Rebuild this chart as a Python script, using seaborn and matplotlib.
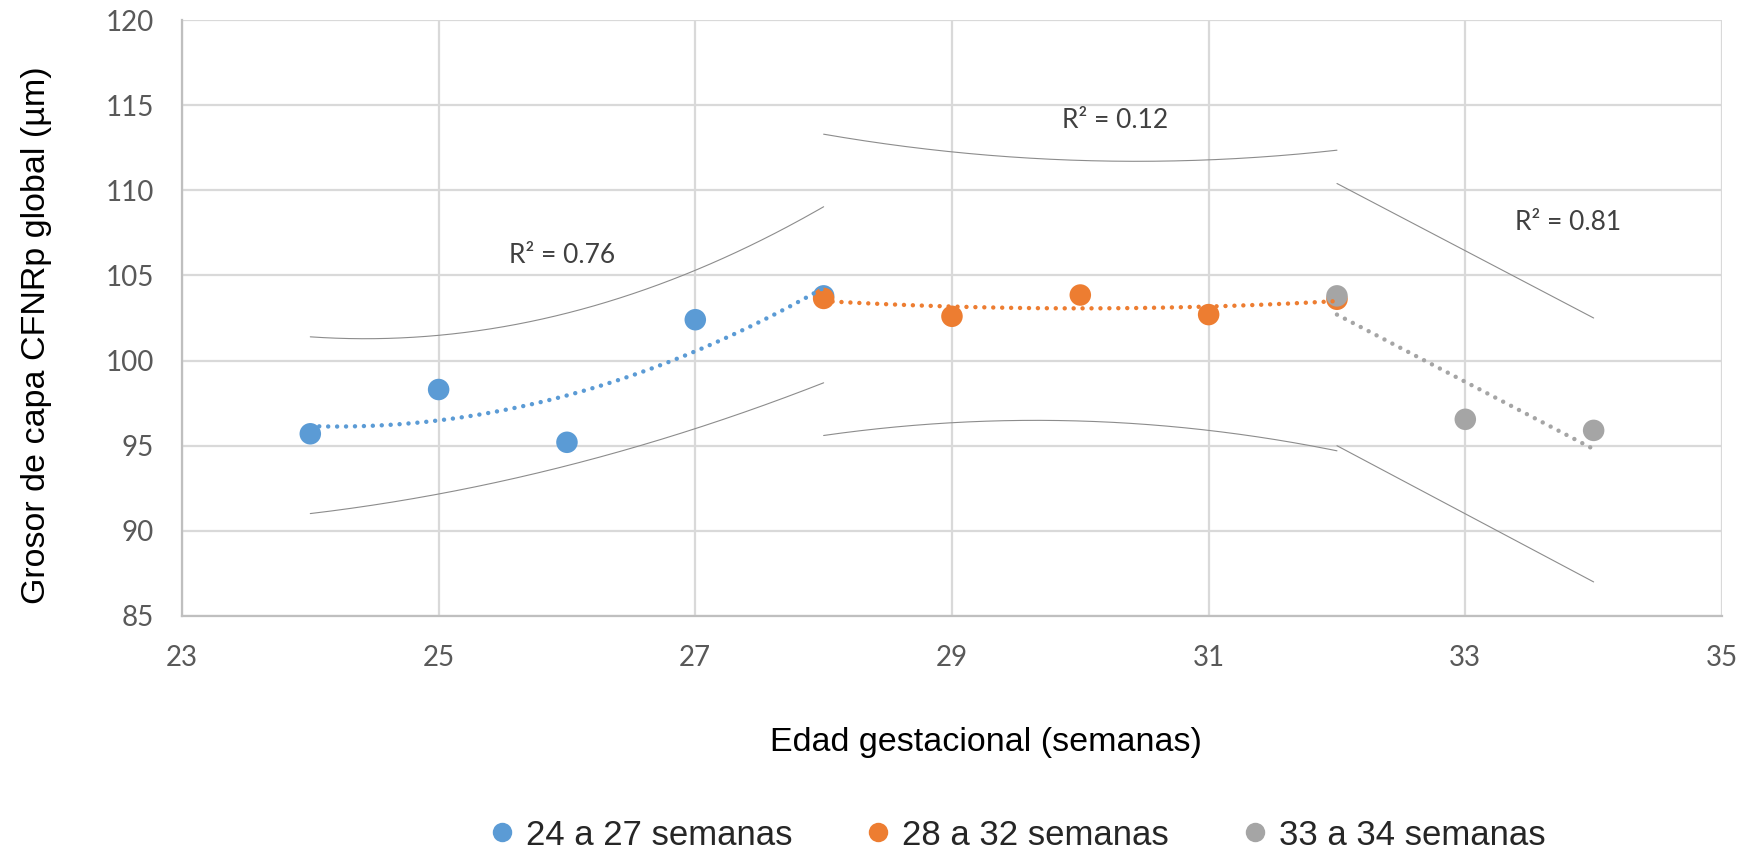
import numpy as np
import pandas as pd
import matplotlib
matplotlib.use("Agg")
import matplotlib.pyplot as plt
import seaborn as sns
from matplotlib.lines import Line2D

# Grupos de edad gestacional
groups = ["24 a 27 semanas", "28 a 32 semanas", "33 a 34 semanas"]
colors = ["#5B9BD5", "#ED7D31", "#A5A5A5"]

# Grosor de capa CFNRp global (µm) por semana
weeks_a = [24, 25, 26, 27, 28]
rnfl_a = [95.7, 98.3, 95.2, 102.4, 103.8]
weeks_b = [28, 29, 30, 31, 32]
rnfl_b = [103.65, 102.6, 103.85, 102.7, 103.6]
weeks_c = [32, 33, 34]
rnfl_c = [103.8, 96.55, 95.9]

# Límites superior e inferior de cada tramo
upper_a = [101.4, 101.5, 102.7, 105.4, 109.0]
lower_a = [91.0, 92.2, 93.8, 96.0, 98.7]
upper_b = [113.3, 112.25, 111.75, 111.8, 112.35]
lower_b = [95.6, 96.35, 96.45, 95.9, 94.7]
upper_c = [110.4, 106.45, 102.5]
lower_c = [95.0, 91.0, 87.0]

fit_orders = [2, 2, 1]
r2_labels = ["R² = 0.76", "R² = 0.12", "R² = 0.81"]

x_ticks = [23, 25, 27, 29, 31, 33, 35]
y_ticks = [85, 90, 95, 100, 105, 110, 115, 120]

weeks = [weeks_a, weeks_b, weeks_c]
values = [rnfl_a, rnfl_b, rnfl_c]
uppers = [upper_a, upper_b, upper_c]
lowers = [lower_a, lower_b, lower_c]

sns.set_theme(style="white")
plt.rcParams["font.family"] = ["Liberation Sans", "DejaVu Sans"]

fig = plt.figure(figsize=(17.53, 8.56), dpi=100)
ax = fig.add_axes([0.1038, 0.2804, 0.8785, 0.6962])

# Puntos de cada grupo
for wk, val, col in zip(weeks, values, colors):
    df = pd.DataFrame({"semana": wk, "grosor": val})
    sns.scatterplot(data=df, x="semana", y="grosor", color=col, s=240,
                    edgecolor="none", linewidth=0, ax=ax, zorder=3,
                    legend=False)

# Curvas de límite (suavizadas) y líneas de tendencia
for wk, val, up, lo, col, order in zip(weeks, values, uppers, lowers,
                                       colors, fit_orders):
    xs = np.linspace(min(wk), max(wk), 200)
    for band in (up, lo):
        yb = np.polyval(np.polyfit(wk, band, order), xs)
        sns.lineplot(x=xs, y=yb, color="#8C8C8C", linewidth=0.8, ax=ax,
                     zorder=2, estimator=None, sort=False)
    coef = np.polyfit(wk, val, order)
    sns.lineplot(x=xs, y=np.polyval(coef, xs), color=col, linewidth=3.2,
                 linestyle=(0, (0.01, 2.0)), dash_capstyle="round", ax=ax,
                 zorder=4, estimator=None, sort=False)

# Coeficientes de determinación
label_xy = [(25.96, 106.2), (30.27, 114.1), (33.8, 108.1)]
for (lx, ly), txt in zip(label_xy, r2_labels):
    ax.text(lx, ly, txt, ha="center", va="center", fontsize=19,
            color="#404040", family=["Lato", "DejaVu Sans"], zorder=5)

ax.set_xlim(23, 35)
ax.set_ylim(85, 120)
ax.set_xticks(x_ticks)
ax.set_yticks(y_ticks)
ax.grid(True, color="#D9D9D9", linewidth=1.6)
ax.set_axisbelow(True)
for side in ("top", "right"):
    ax.spines[side].set_visible(False)
for side in ("left", "bottom"):
    ax.spines[side].set_color("#BFBFBF")
    ax.spines[side].set_linewidth(1.6)
ax.tick_params(axis="both", length=0, labelsize=20, labelcolor="#595959")
ax.tick_params(axis="x", pad=21)
ax.tick_params(axis="y", pad=20)
for lab in ax.get_xticklabels() + ax.get_yticklabels():
    lab.set_family(["Lato", "DejaVu Sans"])

ax.set_xlabel("Edad gestacional (semanas)", fontsize=24.5, color="black")
ax.xaxis.set_label_coords(0.522, -0.187)
ax.set_ylabel("Grosor de capa CFNRp global (µm)", fontsize=24.5,
              color="black")
ax.yaxis.set_label_coords(-0.0847, 0.4715)

handles = [Line2D([0], [0], marker="o", linestyle="none", markersize=14,
                  markerfacecolor=c, markeredgecolor="none") for c in colors]
fig.legend(handles, groups, loc="center", bbox_to_anchor=(0.579, 0.0245),
           ncol=3, frameon=False, fontsize=25, handletextpad=0.2,
           columnspacing=1.97, handlelength=1.0)

fig.savefig("out.png", dpi=100, facecolor="white")
